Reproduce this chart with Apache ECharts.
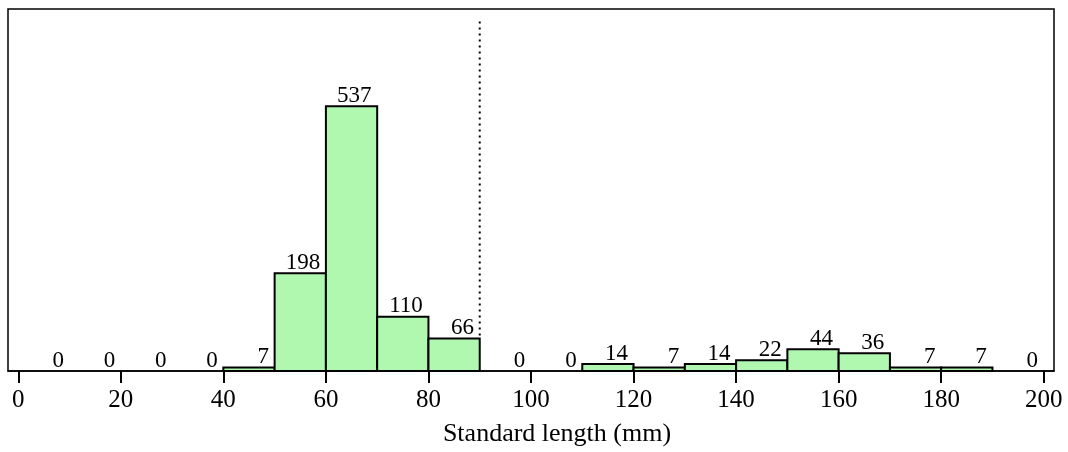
<!DOCTYPE html>
<html>
<head>
<meta charset="utf-8">
<script src="https://cdn.jsdelivr.net/npm/echarts@6/dist/echarts.min.js"></script>
<style>html,body{margin:0;padding:0;background:#fff}#c{width:1068px;height:452px}</style>
</head>
<body>
<div id="c"></div>
<script>
const binStarts = [0,10,20,30,40,50,60,70,80,90,100,110,120,130,140,150,160,170,180,190];
const binWidth = 10;
const counts = [0,0,0,0,7,198,537,110,66,0,0,14,7,14,22,44,36,7,7,0];
const xTicks = [0,20,40,60,80,100,120,140,160,180,200];
const refLine = [[90,72],[90,712]];
const xTitle = 'Standard length (mm)';

const FONT = 'Liberation Serif';
const chart = echarts.init(document.getElementById('c'));
const barData = binStarts.map((s,i)=>[s, s+binWidth, counts[i]]);

chart.setOption({
  animation:false,
  backgroundColor:'#fff',
  grid:{left:8,right:14,top:9,bottom:81,show:true,borderColor:'#000',borderWidth:1.5,backgroundColor:'transparent'},
  xAxis:{type:'value',min:-2,max:202,
    axisLine:{show:true,onZero:false,lineStyle:{color:'#000',width:1.5}},
    axisTick:{show:true,customValues:xTicks,length:12,lineStyle:{color:'#000',width:2}},
    axisLabel:{show:true,customValues:xTicks,margin:17,color:'#000',fontFamily:FONT,fontSize:25},
    splitLine:{show:false}},
  yAxis:{type:'value',min:0,max:734,show:false,splitLine:{show:false}},
  graphic:[{type:'text',x:557,y:434,style:{text:xTitle,fill:'#000',font:'26px "Liberation Serif"',align:'center',verticalAlign:'middle'}}],
  series:[
    {type:'custom',data:barData,encode:{x:[0,1],y:2},clip:false,
     renderItem:function(params,api){
       const s=api.value(0), e=api.value(1), v=api.value(2);
       const p0=api.coord([s,0]), p1=api.coord([e,v]);
       const mid=api.coord([(s+e)/2,v]);
       const children=[];
       if(v>0){
         children.push({type:'rect',shape:{x:p0[0],y:p1[1],width:p1[0]-p0[0],height:p0[1]-p1[1]},
           style:{fill:'#b0f8b0',stroke:'#000',lineWidth:2}});
       }
       children.push({type:'text',x:mid[0]+20,y:p1[1]+1,style:{text:String(v),fill:'#000',font:'23px "Liberation Serif"',align:'right',verticalAlign:'bottom'}});
       return {type:'group',children:children};
     }},
    {type:'line',data:refLine,symbol:'none',silent:true,
     lineStyle:{color:'#000',width:2,type:[2,4]}}
  ]
});
</script>
</body>
</html>
